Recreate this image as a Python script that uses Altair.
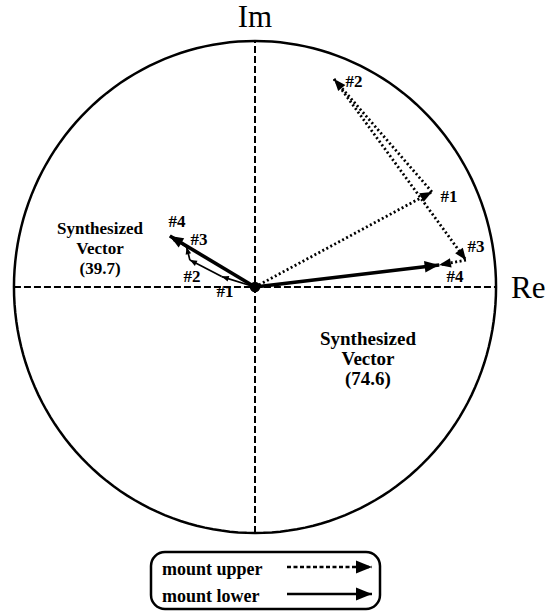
import math
import altair as alt
import pandas as pd

# ---- vector data (complex-plane units) ----
# cumulative tips of the component chains #1..#3; #4 ends on the synthesized vector
UPPER_RE = [71.2, 31.8, 84.9]
UPPER_IM = [37.5, 82.0, 10.6]
LOWER_RE = [-13.4, -26.2, -27.5]
LOWER_IM = [4.1, 10.6, 15.7]
# synthesized vectors: magnitude and phase (deg) for mount upper / mount lower
SYN_MAG = [74.6, 39.7]
SYN_DEG = [6.7, 149.6]
SYN_TEXT = ["Synthesized\nVector\n(74.6)", "Synthesized\nVector\n(39.7)"]
HASH = ["#1", "#2", "#3", "#4"]
CIRCLE_R = 97.0

# ---- page geometry ----
W, H = 558, 613
CX, CY = 255.0, 287.0      # origin on the page
SX, SY = 2.485, 2.536      # pixels per unit


def u(px):
    return (px - CX) / SX


def v(py):
    return (CY - py) / SY


XS = alt.Scale(domain=[u(0), u(W)], nice=False, zero=False)
YS = alt.Scale(domain=[v(H), v(0)], nice=False, zero=False)


def enc(xf="x", yf="y"):
    return dict(x=alt.X(f"{xf}:Q", scale=XS, axis=None),
                y=alt.Y(f"{yf}:Q", scale=YS, axis=None))


syn_tips = [(m * math.cos(math.radians(d)), m * math.sin(math.radians(d)))
            for m, d in zip(SYN_MAG, SYN_DEG)]

upper_pts = [(0.0, 0.0)] + list(zip(UPPER_RE, UPPER_IM)) + [syn_tips[0]]
lower_pts = [(0.0, 0.0)] + list(zip(LOWER_RE, LOWER_IM)) + [syn_tips[1]]


def segs(pts, group):
    return [dict(x=a[0], y=a[1], x2=b[0], y2=b[1], g=group)
            for a, b in zip(pts[:-1], pts[1:])]


seg_upper = pd.DataFrame(segs(upper_pts, "upper"))
seg_lower = pd.DataFrame(segs(lower_pts, "lower"))
seg_syn = pd.DataFrame([dict(x=0.0, y=0.0, x2=t[0], y2=t[1], g="syn") for t in syn_tips])


def heads(df, size):
    rows = []
    for r in df.itertuples():
        th = math.degrees(math.atan2((r.y2 - r.y) * SY, (r.x2 - r.x) * SX))
        rows.append(dict(x=r.x2, y=r.y2, rot=(90 - th) % 360, size=size))
    return pd.DataFrame(rows)


ARROW = "M0,0L-0.8,2L0.8,2Z"

head_upper = heads(seg_upper, 140)
head_lower = heads(seg_lower, 50)
head_syn = pd.DataFrame([heads(seg_syn.iloc[[0]], 210).iloc[0],
                         heads(seg_syn.iloc[[1]], 180).iloc[0]])

# reference circle
circ = pd.DataFrame([dict(x=CIRCLE_R * math.cos(math.radians(a)),
                          y=CIRCLE_R * math.sin(math.radians(a)), o=a)
                     for a in range(0, 361, 2)])

circle = alt.Chart(circ).mark_line(color="black", strokeWidth=2.5).encode(
    order="o:Q", **enc())

axes_df = pd.DataFrame([dict(x=-CIRCLE_R, y=0.0, x2=CIRCLE_R, y2=0.0),
                        dict(x=0.0, y=-CIRCLE_R, x2=0.0, y2=CIRCLE_R)])
axes = alt.Chart(axes_df).mark_rule(color="black", strokeWidth=2, strokeDash=[7, 3]).encode(
    x2="x2:Q", y2="y2:Q", **enc())

upper_lines = alt.Chart(seg_upper).mark_rule(color="black", strokeWidth=2.8, strokeDash=[2, 2.5]).encode(
    x2="x2:Q", y2="y2:Q", **enc())
lower_lines = alt.Chart(seg_lower).mark_rule(color="black", strokeWidth=1.7).encode(
    x2="x2:Q", y2="y2:Q", **enc())
syn_lines = alt.Chart(seg_syn).mark_rule(color="black", strokeWidth=3.6).encode(
    x2="x2:Q", y2="y2:Q", **enc())


def head_layer(df):
    return alt.Chart(df).mark_point(shape=ARROW, filled=True, color="black", opacity=1,
                                    strokeWidth=0).encode(
        angle=alt.Angle("rot:Q", scale=None),
        size=alt.Size("size:Q", scale=None),
        **enc())


origin = alt.Chart(pd.DataFrame([dict(x=0.0, y=0.0)])).mark_point(
    shape="circle", filled=True, color="black", opacity=1, size=110).encode(**enc())

# component labels
hash_pos_upper = [(449, 197), (354, 82), (476, 247), (455, 277)]
hash_pos_lower = [(225, 292), (192, 277), (199, 240), (177, 222)]
hash_df = pd.DataFrame(
    [dict(x=u(p[0]), y=v(p[1]), t=h) for h, p in zip(HASH, hash_pos_upper)] +
    [dict(x=u(p[0]), y=v(p[1]), t=h) for h, p in zip(HASH, hash_pos_lower)])
hash_text = alt.Chart(hash_df).mark_text(
    font="Liberation Serif", fontWeight="bold", fontSize=17, color="black",
    baseline="middle", align="center").encode(text="t:N", **enc())

axis_lbl = pd.DataFrame([dict(x=u(255), y=v(27), t="Im"),
                         dict(x=u(511), y=v(298), t="Re")])
im_text = alt.Chart(axis_lbl.iloc[[0]]).mark_text(
    font="Liberation Serif", fontSize=31, color="black", baseline="alphabetic",
    align="center").encode(text="t:N", **enc())
re_text = alt.Chart(axis_lbl.iloc[[1]]).mark_text(
    font="Liberation Serif", fontSize=31, color="black", baseline="alphabetic",
    align="left").encode(text="t:N", **enc())

syn_right = alt.Chart(pd.DataFrame([dict(x=u(368), y=v(339), t=SYN_TEXT[0])])).mark_text(
    font="Liberation Serif", fontWeight="bold", fontSize=19, lineHeight=20,
    lineBreak="\n", color="black", baseline="middle", align="center").encode(
    text="t:N", **enc())
syn_left = alt.Chart(pd.DataFrame([dict(x=u(100), y=v(229), t=SYN_TEXT[1])])).mark_text(
    font="Liberation Serif", fontWeight="bold", fontSize=17, lineHeight=20,
    lineBreak="\n", color="black", baseline="middle", align="center").encode(
    text="t:N", **enc())

# legend box
box = alt.Chart(pd.DataFrame([dict(x=u(151), x2=u(380), y=v(552), y2=v(609))])).mark_rect(
    fill="white", stroke="black", strokeWidth=2.5, cornerRadius=14).encode(
    x2="x2:Q", y2="y2:Q", **enc())
leg_txt = alt.Chart(pd.DataFrame([dict(x=u(162), y=v(575), t="mount upper"),
                                  dict(x=u(162), y=v(602), t="mount lower")])).mark_text(
    font="Liberation Serif", fontWeight="bold", fontSize=18, color="black",
    baseline="alphabetic", align="left").encode(text="t:N", **enc())
leg_up = pd.DataFrame([dict(x=u(287), y=v(567), x2=u(372), y2=v(567))])
leg_lo = pd.DataFrame([dict(x=u(287), y=v(594), x2=u(372), y2=v(594))])
leg_up_line = alt.Chart(leg_up).mark_rule(color="black", strokeWidth=2.4, strokeDash=[4, 2.5]).encode(
    x2="x2:Q", y2="y2:Q", **enc())
leg_lo_line = alt.Chart(leg_lo).mark_rule(color="black", strokeWidth=2.4).encode(
    x2="x2:Q", y2="y2:Q", **enc())
leg_heads = pd.concat([heads(leg_up, 256), heads(leg_lo, 256)], ignore_index=True)

chart = alt.layer(
    circle, axes,
    upper_lines, lower_lines, syn_lines,
    head_layer(head_upper), head_layer(head_lower), head_layer(head_syn),
    origin, hash_text, im_text, re_text, syn_right, syn_left,
    box, leg_txt, leg_up_line, leg_lo_line, head_layer(leg_heads),
).properties(
    width=W, height=H, padding=0, autosize=alt.AutoSizeParams(type="none"),
    background="white",
).configure_view(stroke=None)

chart.save("out.html", embed_options={"renderer": "svg", "actions": False})
